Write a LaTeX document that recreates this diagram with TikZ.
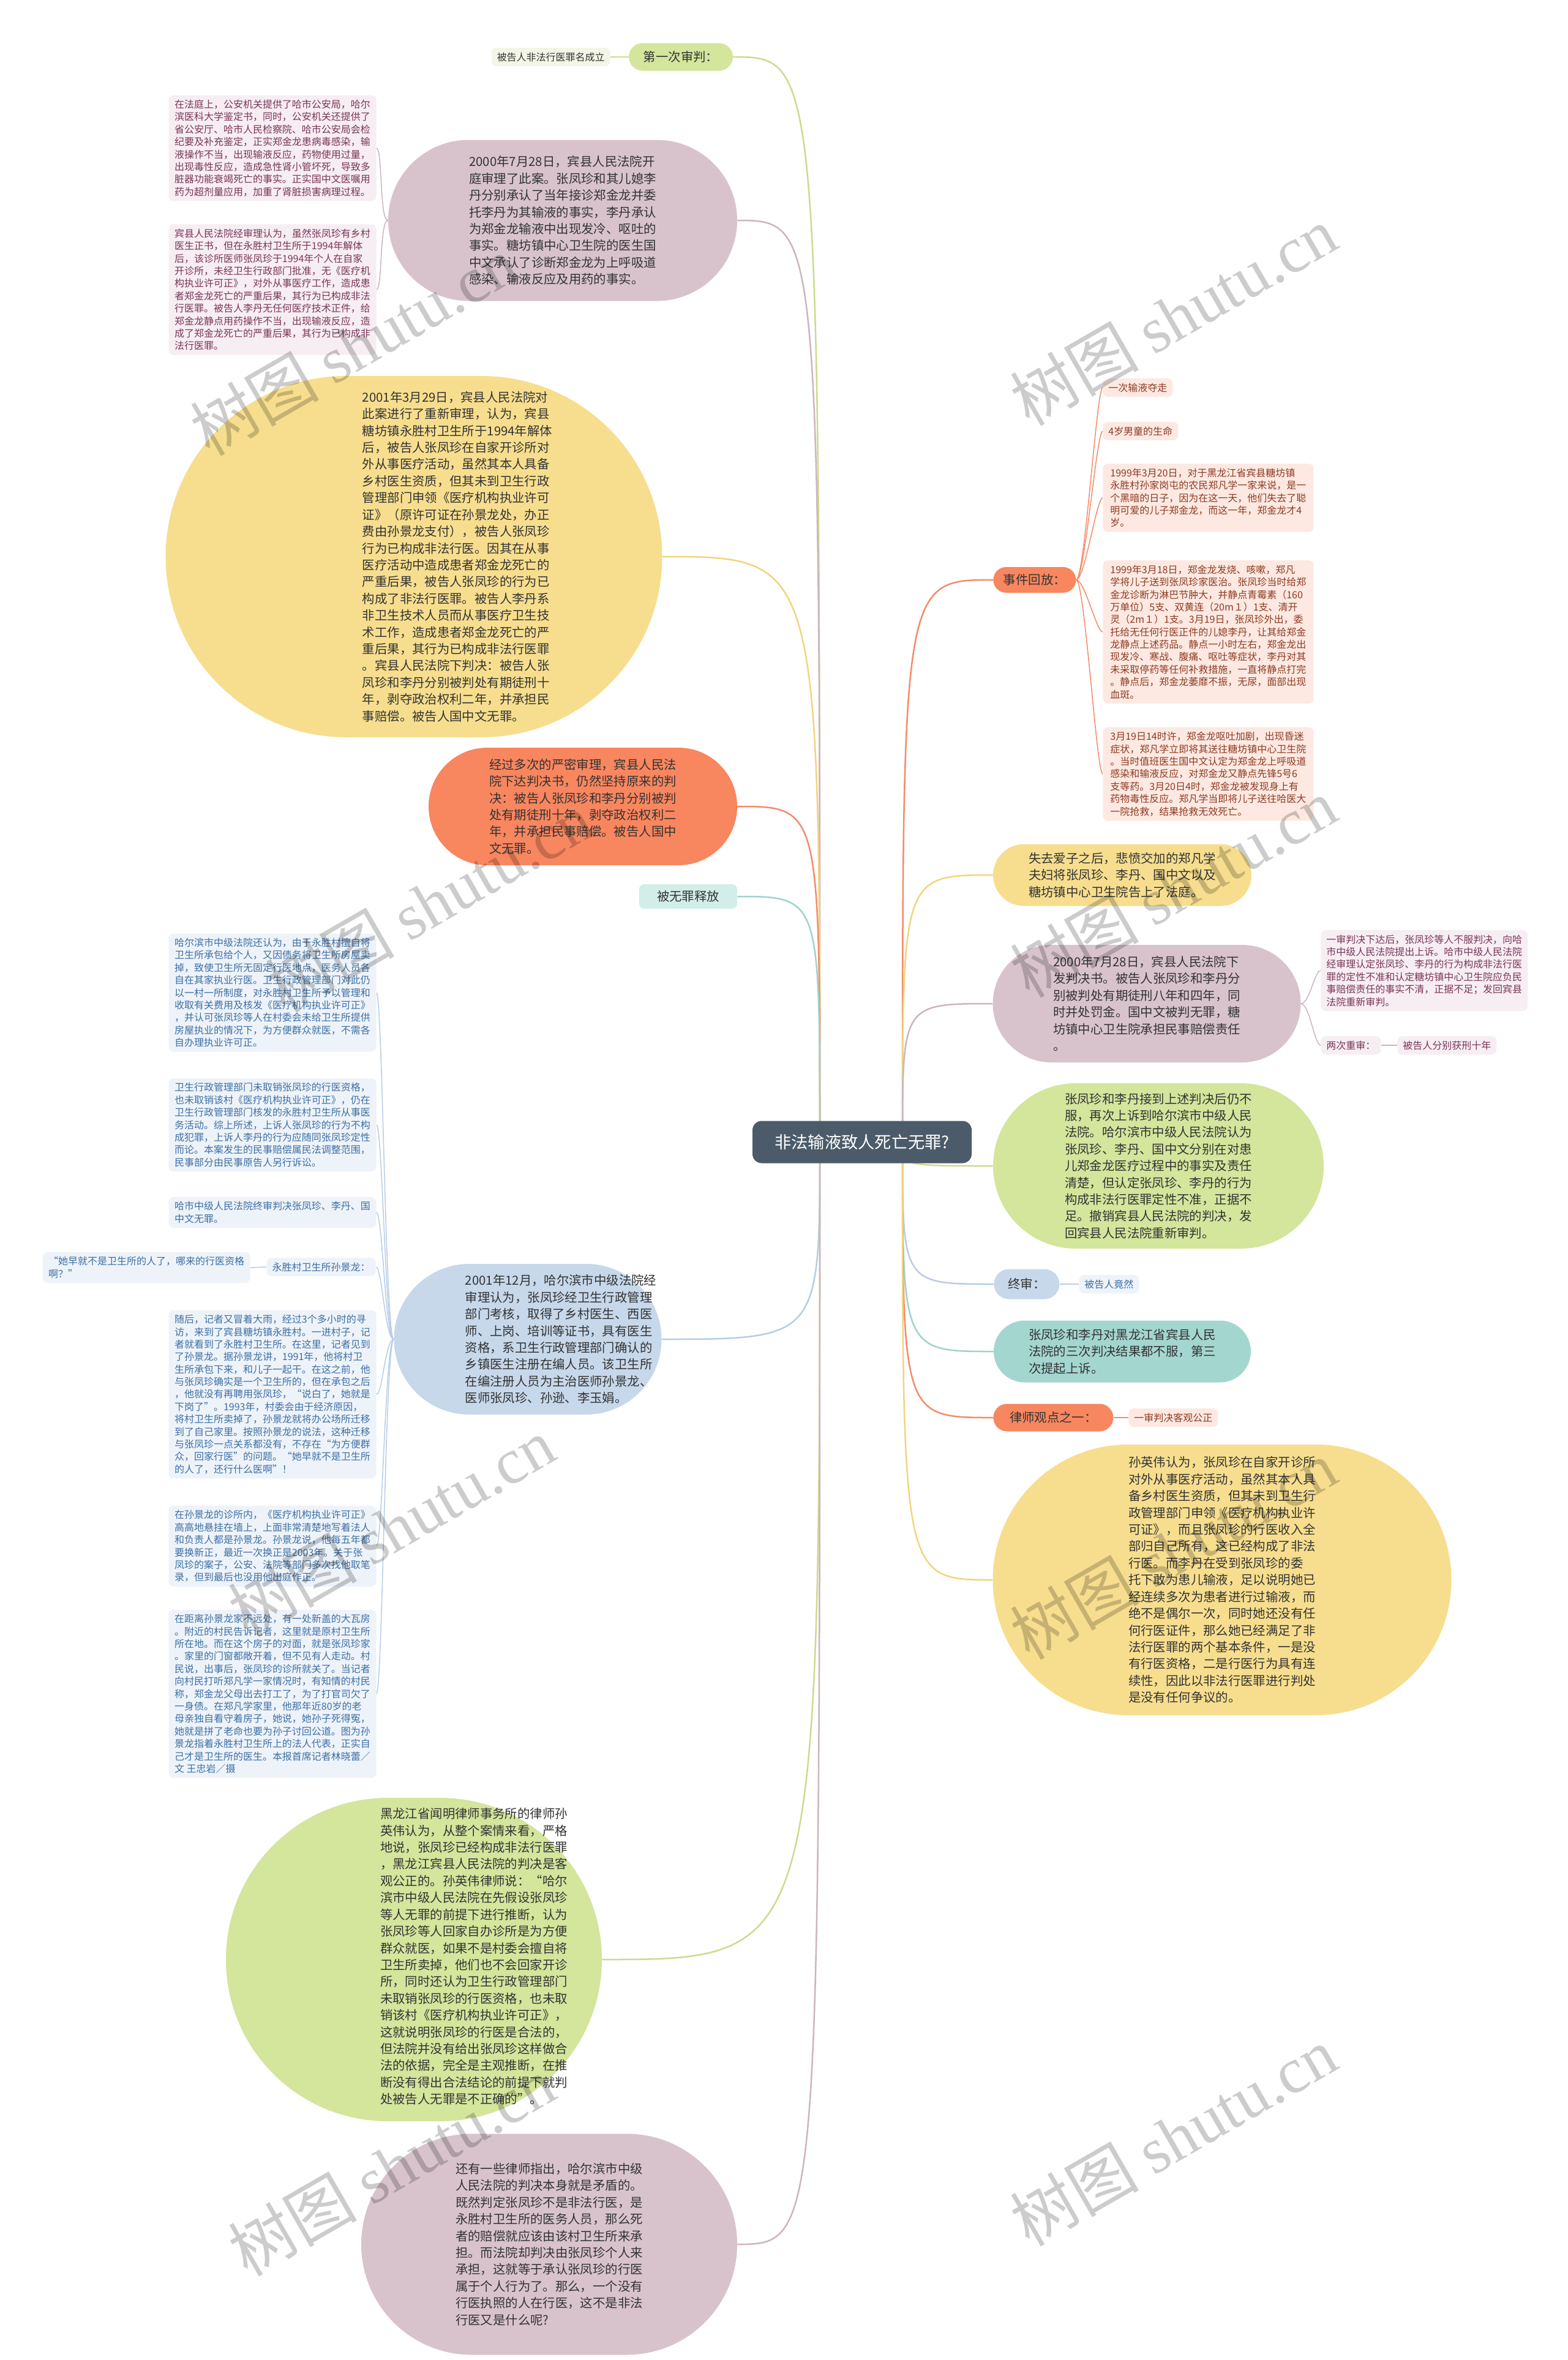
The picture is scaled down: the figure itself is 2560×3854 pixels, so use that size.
\documentclass[tikz,border=0pt]{standalone}
\usepackage{fontspec}
\setmainfont{Noto Sans CJK SC}
\newfontfamily\wmlatin{Liberation Serif}
\usetikzlibrary{shapes.misc,backgrounds}
\definecolor{rootc}{HTML}{4B5B69}
\definecolor{inkc}{HTML}{333333}
\definecolor{greenc}{HTML}{D4E59C}
\definecolor{pinkc}{HTML}{D8C3CC}
\definecolor{yellowc}{HTML}{F7DE8E}
\definecolor{orangec}{HTML}{F8865F}
\definecolor{tealc}{HTML}{A4D6D0}
\definecolor{bluec}{HTML}{C7D8EA}
\definecolor{mintc}{HTML}{D2EEE8}
\definecolor{greenf}{HTML}{F3F6E6}
\definecolor{pinkf}{HTML}{F6EEF2}
\definecolor{bluef}{HTML}{EEF3F9}
\definecolor{orangef}{HTML}{FDE9E2}
\definecolor{pinkt}{HTML}{7A3558}
\definecolor{bluet}{HTML}{3C6FA5}
\definecolor{oranget}{HTML}{8E3A22}
\definecolor{greenl}{HTML}{CADC8E}
\definecolor{pinkl}{HTML}{CDB4C0}
\definecolor{yellowl}{HTML}{F2D47E}
\definecolor{orangel}{HTML}{F58B68}
\definecolor{teall}{HTML}{9FD3CC}
\definecolor{bluel}{HTML}{B8CDE4}
\newcommand\blobfont{\fontsize{11.6}{15.6}\selectfont}
\newcommand\leaffont{\fontsize{9.1}{11.6}\selectfont}

\begin{document}
\begin{tikzpicture}[x=0.2mm,y=-0.2mm,
  blob/.style={rounded rectangle,inner sep=0pt,align=left,text=inkc,font=\blobfont},
  tag/.style={rounded rectangle,inner sep=0pt,text=inkc,font=\blobfont},
  leaf/.style={rounded corners=1.6mm,inner xsep=1.8mm,inner ysep=1.5mm,align=left,font=\leaffont},
  branch/.style={line width=0.5mm},
  twig/.style={line width=0.3mm},
  wm/.style={rotate=30,text=black,opacity=0.2,font=\fontsize{60}{60}\selectfont}]
  \useasboundingbox (0,0) rectangle (2560,3854);

  \node[rounded corners=3mm,fill=rootc,text=white,font=\fontsize{15.5}{18}\selectfont,
    minimum width=71.6mm,minimum height=13.8mm] (root) at (1408,1865) {非法输液致人死亡无罪?};

  % left side
  \node[tag,fill=greenc,minimum width=34mm,minimum height=9mm] (first) at (1112,93) {第一次审判：};
  \node[leaf,fill=greenf,text=inkc,anchor=east] (firstleaf) at (997,93) {被告人非法行医罪名成立};

  \node[blob,fill=pinkc,minimum width=114mm,minimum height=52.6mm] (court1) at (919,360)
    {2000年7月28日，宾县人民法院开\\庭审理了此案。张凤珍和其儿媳李\\丹分别承认了当年接诊郑金龙并委\\托李丹为其输液的事实，李丹承认\\为郑金龙输液中出现发冷、呕吐的\\事实。糖坊镇中心卫生院的医生国\\中文承认了诊断郑金龙为上呼吸道\\感染、输液反应及用药的事实。};
  \node[leaf,fill=pinkf,text=pinkt,minimum width=67.8mm] (court1a) at (445,242)
    {在法庭上，公安机关提供了哈市公安局，哈尔\\滨医科大学鉴定书，同时，公安机关还提供了\\省公安厅、哈市人民检察院、哈市公安局会检\\纪要及补充鉴定，正实郑金龙患病毒感染，输\\液操作不当，出现输液反应，药物使用过量，\\出现毒性反应，造成急性肾小管坏死，导致多\\脏器功能衰竭死亡的事实。正实国中文医嘱用\\药为超剂量应用，加重了肾脏损害病理过程。};
  \node[leaf,fill=pinkf,text=pinkt,minimum width=67.8mm] (court1b) at (445,473)
    {宾县人民法院经审理认为，虽然张凤珍有乡村\\医生正书，但在永胜村卫生所于1994年解体\\后，该诊所医师张凤珍于1994年个人在自家\\开诊所，未经卫生行政部门批准，无《医疗机\\构执业许可正》，对外从事医疗工作，造成患\\者郑金龙死亡的严重后果，其行为已构成非法\\行医罪。被告人李丹无任何医疗技术正件，给\\郑金龙静点用药操作不当，出现输液反应，造\\成了郑金龙死亡的严重后果，其行为已构成非\\法行医罪。};

  \node[blob,fill=yellowc,minimum width=162.2mm,minimum height=118mm] (retrial) at (676,909) {};
  \node[align=left,text=inkc,font=\blobfont,inner sep=0pt] (retrialtxt) at (747,909)
    {2001年3月29日，宾县人民法院对\\此案进行了重新审理，认为，宾县\\糖坊镇永胜村卫生所于1994年解体\\后，被告人张凤珍在自家开诊所对\\外从事医疗活动，虽然其本人具备\\乡村医生资质，但其未到卫生行政\\管理部门申领《医疗机构执业许可\\证》（原许可证在孙景龙处，办正\\费由孙景龙支付），被告人张凤珍\\行为已构成非法行医。因其在从事\\医疗活动中造成患者郑金龙死亡的\\严重后果，被告人张凤珍的行为已\\构成了非法行医罪。被告人李丹系\\非卫生技术人员而从事医疗卫生技\\术工作，造成患者郑金龙死亡的严\\重后果，其行为已构成非法行医罪\\。宾县人民法院下判决：被告人张\\凤珍和李丹分别被判处有期徒刑十\\年，剥夺政治权利二年，并承担民\\事赔偿。被告人国中文无罪。};

  \node[blob,fill=orangec,minimum width=100.8mm,minimum height=38.4mm] (verdict) at (952,1317)
    {经过多次的严密审理，宾县人民法\\院下达判决书，仍然坚持原来的判\\决：被告人张凤珍和李丹分别被判\\处有期徒刑十年，剥夺政治权利二\\年，并承担民事赔偿。被告人国中\\文无罪。};
  \node[rounded corners=1.6mm,fill=mintc,text=inkc,font=\blobfont,minimum width=32mm,minimum height=8mm] (freed) at (1124,1464) {被无罪释放};

  \node[blob,fill=bluec,minimum width=87.4mm,minimum height=49.2mm] (appeal) at (862,2187) {};
  \node[align=left,text=inkc,font=\blobfont,inner sep=0pt] (appealtxt) at (916,2187)
    {2001年12月，哈尔滨市中级法院经\\审理认为，张凤珍经卫生行政管理\\部门考核，取得了乡村医生、西医\\师、上岗、培训等证书，具有医生\\资格，系卫生行政管理部门确认的\\乡镇医生注册在编人员。该卫生所\\在编注册人员为主治医师孙景龙、\\医师张凤珍、孙逊、李玉娟。};
  \node[leaf,fill=bluef,text=bluet,minimum width=67.8mm] (ba) at (445,1621)
    {哈尔滨市中级法院还认为，由于永胜村擅自将\\卫生所承包给个人，又因债务将卫生所房屋卖\\掉，致使卫生所无固定行医地点，医务人员各\\自在其家执业行医。卫生行政管理部门对此仍\\以一村一所制度，对永胜村卫生所予以管理和\\收取有关费用及核发《医疗机构执业许可正》\\，并认可张凤珍等人在村委会未给卫生所提供\\房屋执业的情况下，为方便群众就医，不需各\\自办理执业许可正。};
  \node[leaf,fill=bluef,text=bluet,minimum width=67.8mm] (bb) at (445,1837)
    {卫生行政管理部门未取销张凤珍的行医资格，\\也未取销该村《医疗机构执业许可正》，仍在\\卫生行政管理部门核发的永胜村卫生所从事医\\务活动。综上所述，上诉人张凤珍的行为不构\\成犯罪，上诉人李丹的行为应随同张凤珍定性\\而论。本案发生的民事赔偿属民法调整范围，\\民事部分由民事原告人另行诉讼。};
  \node[leaf,fill=bluef,text=bluet,minimum width=67.8mm] (bc) at (445,1980)
    {哈市中级人民法院终审判决张凤珍、李丹、国\\中文无罪。};
  \node[leaf,fill=bluef,text=bluet,anchor=east] (sun) at (614,2069) {永胜村卫生所孙景龙：};
  \node[leaf,fill=bluef,text=bluet,minimum width=67.8mm,anchor=east] (quote) at (409,2070)
    {“她早就不是卫生所的人了，哪来的行医资格\\啊？”};
  \node[leaf,fill=bluef,text=bluet,minimum width=67.8mm] (bd) at (445,2277)
    {随后，记者又冒着大雨，经过3个多小时的寻\\访，来到了宾县糖坊镇永胜村。一进村子，记\\者就看到了永胜村卫生所。在这里，记者见到\\了孙景龙。据孙景龙讲，1991年，他将村卫\\生所承包下来，和儿子一起干。在这之前，他\\与张凤珍确实是一个卫生所的，但在承包之后\\，他就没有再聘用张凤珍，“说白了，她就是\\下岗了”。1993年，村委会由于经济原因，\\将村卫生所卖掉了，孙景龙就将办公场所迁移\\到了自己家里。按照孙景龙的说法，这种迁移\\与张凤珍一点关系都没有，不存在“为方便群\\众，回家行医”的问题。“她早就不是卫生所\\的人了，还行什么医啊”！};
  \node[leaf,fill=bluef,text=bluet,minimum width=67.8mm] (be) at (445,2525)
    {在孙景龙的诊所内，《医疗机构执业许可正》\\高高地悬挂在墙上，上面非常清楚地写着法人\\和负责人都是孙景龙。孙景龙说，他每五年都\\要换新正，最近一次换正是2003年。关于张\\凤珍的案子，公安、法院等部门多次找他取笔\\录，但到最后也没用他出庭作正。};
  \node[leaf,fill=bluef,text=bluet,minimum width=67.8mm] (bf) at (445,2766)
    {在距离孙景龙家不远处，有一处新盖的大瓦房\\。附近的村民告诉记者，这里就是原村卫生所\\所在地。而在这个房子的对面，就是张凤珍家\\。家里的门窗都敞开着，但不见有人走动。村\\民说，出事后，张凤珍的诊所就关了。当记者\\向村民打听郑凡学一家情况时，有知情的村民\\称，郑金龙父母出去打工了，为了打官司欠了\\一身债。在郑凡学家里，他那年近80岁的老\\母亲独自看守着房子，她说，她孙子死得冤，\\她就是拼了老命也要为孙子讨回公道。图为孙\\景龙指着永胜村卫生所上的法人代表，正实自\\己才是卫生所的医生。本报首席记者林晓蕾／\\文 王忠岩／摄};

  \node[blob,fill=greenc,minimum width=122.8mm,minimum height=105.6mm] (lawyer) at (676,3200) {};
  \node[align=left,text=inkc,font=\blobfont,inner sep=0pt] (lawyertxt) at (774,3195)
    {黑龙江省闻明律师事务所的律师孙\\英伟认为，从整个案情来看，严格\\地说，张凤珍已经构成非法行医罪\\，黑龙江宾县人民法院的判决是客\\观公正的。孙英伟律师说：“哈尔\\滨市中级人民法院在先假设张凤珍\\等人无罪的前提下进行推断，认为\\张凤珍等人回家自办诊所是为方便\\群众就医，如果不是村委会擅自将\\卫生所卖掉，他们也不会回家开诊\\所，同时还认为卫生行政管理部门\\未取销张凤珍的行医资格，也未取\\销该村《医疗机构执业许可正》，\\这就说明张凤珍的行医是合法的，\\但法院并没有给出张凤珍这样做合\\法的依据，完全是主观推断，在推\\断没有得出合法结论的前提下就判\\处被告人无罪是不正确的”。};
  \node[blob,fill=pinkc,minimum width=122.8mm,minimum height=72.2mm] (others) at (897,3665)
    {还有一些律师指出，哈尔滨市中级\\人民法院的判决本身就是矛盾的。\\既然判定张凤珍不是非法行医，是\\永胜村卫生所的医务人员，那么死\\者的赔偿就应该由该村卫生所来承\\担。而法院却判决由张凤珍个人来\\承担，这就等于承认张凤珍的行医\\属于个人行为了。那么，一个没有\\行医执照的人在行医，这不是非法\\行医又是什么呢?};

  % right side
  \node[tag,fill=orangec,minimum width=27mm,minimum height=8.4mm,anchor=west] (replay) at (1622,947) {事件回放：};
  \node[leaf,fill=orangef,text=oranget,anchor=west] (ra) at (1801,633) {一次输液夺走};
  \node[leaf,fill=orangef,text=oranget,anchor=west] (rb) at (1801,704) {4岁男童的生命};
  \node[leaf,fill=orangef,text=oranget,anchor=west,minimum width=68.8mm] (rc) at (1801,813)
    {1999年3月20日，对于黑龙江省宾县糖坊镇\\永胜村孙家岗屯的农民郑凡学一家来说，是一\\个黑暗的日子，因为在这一天，他们失去了聪\\明可爱的儿子郑金龙，而这一年，郑金龙才4\\岁。};
  \node[leaf,fill=orangef,text=oranget,anchor=west,minimum width=68.8mm] (rd) at (1801,1032)
    {1999年3月18日，郑金龙发烧、咳嗽，郑凡\\学将儿子送到张凤珍家医治。张凤珍当时给郑\\金龙诊断为淋巴节肿大，并静点青霉素（160\\万单位）5支、双黄连（20m１）1支、清开\\灵（2m１）1支。3月19日，张凤珍外出，委\\托给无任何行医正件的儿媳李丹，让其给郑金\\龙静点上述药品。静点一小时左右，郑金龙出\\现发冷、寒战、腹痛、呕吐等症状，李丹对其\\未采取停药等任何补救措施，一直将静点打完\\。静点后，郑金龙萎靡不振，无尿，面部出现\\血斑。};
  \node[leaf,fill=orangef,text=oranget,anchor=west,minimum width=68.8mm] (re) at (1801,1264)
    {3月19日14时许，郑金龙呕吐加剧，出现昏迷\\症状，郑凡学立即将其送往糖坊镇中心卫生院\\。当时值班医生国中文认定为郑金龙上呼吸道\\感染和输液反应，对郑金龙又静点先锋5号6\\支等药。3月20日4时，郑金龙被发现身上有\\药物毒性反应。郑凡学当即将儿子送往哈医大\\一院抢救，结果抢救无效死亡。};

  \node[blob,fill=yellowc,minimum width=84.4mm,minimum height=20.2mm] (sue) at (1833,1429)
    {失去爱子之后，悲愤交加的郑凡学\\夫妇将张凤珍、李丹、国中文以及\\糖坊镇中心卫生院告上了法庭。};
  \node[blob,fill=pinkc,minimum width=100.6mm,minimum height=38.4mm] (first2) at (1873,1639)
    {2000年7月28日，宾县人民法院下\\发判决书。被告人张凤珍和李丹分\\别被判处有期徒刑八年和四年，同\\时并处罚金。国中文被判无罪，糖\\坊镇中心卫生院承担民事赔偿责任\\。};
  \node[leaf,fill=pinkf,text=pinkt,anchor=west] (hc) at (2157,1585)
    {一审判决下达后，张凤珍等人不服判决，向哈\\市中级人民法院提出上诉。哈市中级人民法院\\经审理认定张凤珍、李丹的行为构成非法行医\\罪的定性不准和认定糖坊镇中心卫生院应负民\\事赔偿责任的事实不清，正据不足；发回宾县\\法院重新审判。};
  \node[leaf,fill=pinkf,text=pinkt,anchor=west] (twice) at (2157,1707) {两次重审：};
  \node[leaf,fill=pinkf,text=pinkt,anchor=west] (twiceleaf) at (2282,1707) {被告人分别获刑十年};

  \node[blob,fill=greenc,minimum width=108mm,minimum height=54mm] (remand) at (1892,1904)
    {张凤珍和李丹接到上述判决后仍不\\服，再次上诉到哈尔滨市中级人民\\法院。哈尔滨市中级人民法院认为\\张凤珍、李丹、国中文分别在对患\\儿郑金龙医疗过程中的事实及责任\\清楚，但认定张凤珍、李丹的行为\\构成非法行医罪定性不准，正据不\\足。撤销宾县人民法院的判决，发\\回宾县人民法院重新审判。};
  \node[tag,fill=bluec,minimum width=21.4mm,minimum height=9.8mm,anchor=west] (final) at (1623,2097) {终审：};
  \node[leaf,fill=bluef,text=bluet,anchor=west] (finalleaf) at (1762,2097) {被告人竟然};
  \node[blob,fill=tealc,minimum width=84mm,minimum height=20.2mm] (third) at (1833,2207)
    {张凤珍和李丹对黑龙江省宾县人民\\法院的三次判决结果都不服，第三\\次提起上诉。};
  \node[tag,fill=orangec,minimum width=39.2mm,minimum height=9mm,anchor=west] (view) at (1622,2315) {律师观点之一：};
  \node[leaf,fill=orangef,text=oranget,anchor=west] (viewleaf) at (1843,2315) {一审判决客观公正};
  \node[blob,fill=yellowc,minimum width=149.8mm,minimum height=88.4mm] (sunview) at (1996,2580)
    {孙英伟认为，张凤珍在自家开诊所\\对外从事医疗活动，虽然其本人具\\备乡村医生资质，但其未到卫生行\\政管理部门申领《医疗机构执业许\\可证》，而且张凤珍的行医收入全\\部归自己所有，这已经构成了非法\\行医。而李丹在受到张凤珍的委\\托下敢为患儿输液，足以说明她已\\经连续多次为患者进行过输液，而\\绝不是偶尔一次，同时她还没有任\\何行医证件，那么她已经满足了非\\法行医罪的两个基本条件，一是没\\有行医资格，二是行医行为具有连\\续性，因此以非法行医罪进行判处\\是没有任何争议的。};

  \begin{scope}[on background layer]
    \fill[white] (0,0) rectangle (2560,3854);
    \coordinate (rl) at (1339,1865);
    \coordinate (rr) at (1474,1865);
    \foreach \c/\col in {first/greenl,court1/pinkl,retrial/yellowl,verdict/orangel,freed/teall,appeal/bluel,lawyer/greenl,others/pinkl}
      \draw[branch,\col] (rl) .. controls (rl |- \c.east) .. (\c.east);
    \foreach \c/\col in {replay/orangel,sue/yellowl,first2/pinkl,remand/greenl,final/bluel,third/teall,view/orangel,sunview/yellowl}
      \draw[branch,\col] (rr) .. controls (rr |- \c.west) .. (\c.west);
    \draw[twig,greenl] (first.west) -- (firstleaf.east);
    \foreach \c in {court1a,court1b}
      \draw[twig,pinkl] (court1.west) .. controls +(-14,0) and +(10,0) .. (\c.east);
    \foreach \c in {ba,bb,bc,sun,bd,be,bf}
      \draw[twig,bluel] (appeal.west) .. controls +(-14,0) and +(10,0) .. (\c.east);
    \draw[twig,bluel] (sun.west) -- (quote.east);
    \foreach \c in {ra,rb,rc,rd,re}
      \draw[twig,orangel] (replay.east) .. controls +(14,0) and +(-10,0) .. (\c.west);
    \foreach \c in {hc,twice}
      \draw[twig,pinkl] (first2.east) .. controls +(14,0) and +(-10,0) .. (\c.west);
    \draw[twig,pinkl] (twice.east) -- (twiceleaf.west);
    \draw[twig,bluel] (final.east) -- (finalleaf.west);
    \draw[twig,orangel] (view.east) -- (viewleaf.west);
  \end{scope}

  \foreach \x/\y [count=\i] in {577/565,1916/516,700/1474,1916/1450,639/2494,1916/2531,639/3538,1916/3489}
    \node[wm] (mark\i) at (\x,\y) {树图 {\wmlatin shutu.cn}};
\end{tikzpicture}
\end{document}
